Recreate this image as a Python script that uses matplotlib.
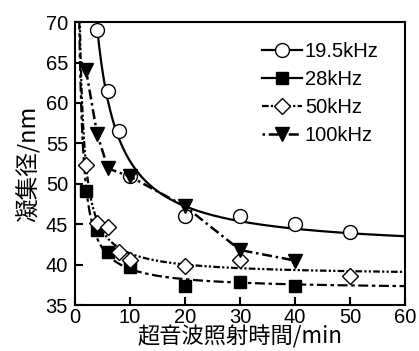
import numpy as np
import matplotlib
matplotlib.use('Agg')
import matplotlib.pyplot as plt

plt.rcParams['font.family'] = ['Liberation Sans', 'Noto Sans CJK JP', 'DejaVu Sans']

# Aggregate diameter vs. irradiation time for each ultrasonic frequency
t_195 = [4, 6, 8, 10, 20, 30, 40, 50]
d_195 = [69.0, 61.5, 56.5, 51.0, 46.0, 46.0, 45.0, 44.0]

t_28 = [2, 4, 6, 10, 20, 30, 40]
d_28 = [49.1, 44.3, 41.5, 39.7, 37.3, 37.8, 37.4]

t_50 = [2, 4, 6, 8, 10, 20, 30, 50]
d_50 = [52.3, 45.2, 44.7, 41.5, 40.6, 39.8, 40.6, 38.6]

t_100 = [2, 4, 6, 10, 20, 30, 40]
d_100 = [64.1, 56.2, 51.9, 50.9, 47.2, 41.8, 40.5]

labels = ['19.5kHz', '28kHz', '50kHz', '100kHz']

JP = ['Noto Sans CJK JP', 'DejaVu Sans']


def fit_inverse(t, d):
    # least squares fit of d = a + b / t
    b, a = np.polyfit(1.0 / np.asarray(t, float), np.asarray(d, float), 1)
    return a, b


fig = plt.figure(figsize=(4.19, 3.51), dpi=100)
ax = fig.add_axes([0.179, 0.131, 0.788, 0.806])

tt = np.linspace(0.3, 60, 600)

# fitted trend curves
a, b = fit_inverse(t_195, d_195)
ax.plot(tt, a + b / tt, color='black', lw=1.6, ls='-')
a, b = fit_inverse(t_28, d_28)
ax.plot(tt, a + b / tt, color='black', lw=1.6, ls=(0, (4.5, 1.6, 1.6, 1.6)))
a, b = fit_inverse(t_50, d_50)
ax.plot(tt, a + b / tt, color='black', lw=1.6, ls=(0, (3, 1, 1, 1, 1, 1)))

# markers; 100kHz points are joined directly
ax.plot(t_195, d_195, ls='none', marker='o', ms=10, mfc='white', mec='black', mew=1.0)
ax.plot(t_28, d_28, ls='none', marker='s', ms=8.5, mfc='black', mec='black')
ax.plot(t_50, d_50, ls='none', marker='D', ms=8.5, mfc='white', mec='black', mew=1.0)
ax.plot(t_100, d_100, color='black', lw=1.8, ls=(0, (4, 1.5, 1, 1.5)),
        marker='v', ms=10, mfc='black', mec='black')

# legend handles
h1, = ax.plot([], [], color='black', lw=1.6, ls='-', marker='o', ms=10, mfc='white', mec='black')
h2, = ax.plot([], [], color='black', lw=1.6, ls='-', marker='s', ms=8.5, mfc='black', mec='black')
h3, = ax.plot([], [], color='black', lw=1.6, ls=(0, (3, 1, 1, 1, 1, 1)), marker='D', ms=8.5,
              mfc='white', mec='black')
h4, = ax.plot([], [], color='black', lw=1.8, ls=(0, (1, 1.5, 4, 1.5)), marker='v', ms=10,
              mfc='black', mec='black')

leg = ax.legend([h1, h2, h3, h4], labels, loc='upper right', frameon=False,
                fontsize=14.5, handlelength=2.0, handletextpad=0.15, labelspacing=0.45,
                borderpad=0, borderaxespad=0, bbox_to_anchor=(0.92, 0.93))

ax.set_xlim(0, 60)
ax.set_ylim(35, 70)
ax.set_xticks([0, 10, 20, 30, 40, 50, 60])
ax.set_yticks([35, 40, 45, 50, 55, 60, 65, 70])
ax.tick_params(direction='in', length=6, width=1.5, labelsize=14.5)
ax.tick_params(axis='x', pad=2)
ax.tick_params(axis='y', pad=5)
for sp in ax.spines.values():
    sp.set_linewidth(1.5)

ax.set_xlabel('超音波照射時間/min', fontsize=16, family=JP, labelpad=-1)
ax.set_ylabel('凝集径/nm', fontsize=17, family=JP, labelpad=4)

fig.savefig('out.png', dpi=100)
